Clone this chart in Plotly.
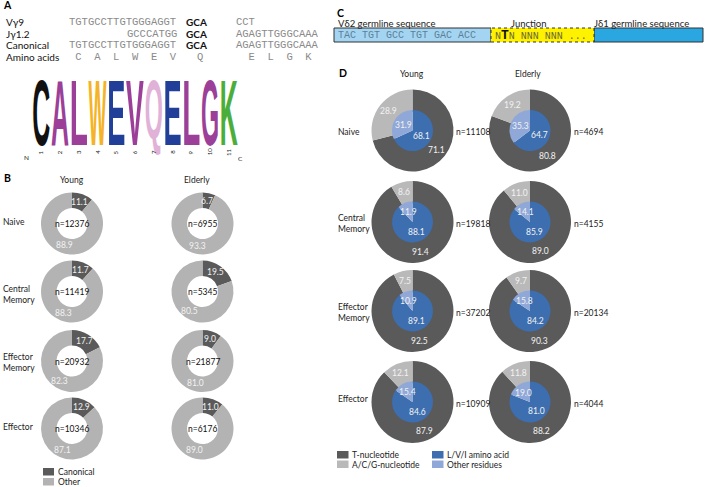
import math
import json
import plotly.graph_objects as go

W, H = 708, 487
FONT = "Lato"
MONO = "Liberation Mono"
LOGO_FONT = "Liberation Sans"


def X(px):
    return px / W


def Y(py):
    return 1 - py / H


# ------------------------------------------------------------------ data
# Panel A
seq_labels = ["Vγ9", "Jγ1.2", "Canonical", "Amino acids"]
seq_5p = ["TGTGCCTTGTGGGAGGT", "GCCCATGG", "TGTGCCTTGTGGGAGGT", " C  A  L  W  E  V"]
seq_mid = ["GCA", "GCA", "GCA", "Q"]
seq_3p = ["CCT", "AGAGTTGGGCAAA", "AGAGTTGGGCAAA", "  E  L  G  K"]
logo_letters = ["C", "A", "L", "W", "E", "V", "Q", "E", "L", "G", "K"]
logo_colors = ["#111111", "#9b3f98", "#9b3f98", "#f5b326", "#213f98", "#9b3f98",
               "#e0b2d8", "#213f98", "#9b3f98", "#9b3f98", "#4bae3a"]
logo_positions = ["1", "2", "3", "4", "5", "6", "7", "8", "9", "10", "11"]

# Panel C
c_titles = ["Vδ2 germline sequence", "Junction", "Jδ1 germline sequence"]
c_v_sequence = "TAC TGT GCC TGT GAC ACC"
c_junction = "N<b><span style='font-size:13px;color:#111'>T</span></b>N NNN NNN ..."

# Panel B
subsets = ["Naive", "Central<br>Memory", "Effector<br>Memory", "Effector"]
age_groups = ["Young", "Elderly"]
b_young_canonical = [11.1, 11.7, 17.7, 12.9]
b_young_other = [88.9, 88.3, 82.3, 87.1]
b_young_n = [12376, 11419, 20932, 10346]
b_elderly_canonical = [6.7, 19.5, 9.0, 11.0]
b_elderly_other = [93.3, 80.5, 81.0, 89.0]
b_elderly_n = [6955, 5345, 21877, 6176]
b_legend = ["Canonical", "Other"]

# Panel D
d_young_T = [71.1, 91.4, 92.5, 87.9]
d_young_ACG = [28.9, 8.6, 7.5, 12.1]
d_young_LVI = [68.1, 88.1, 89.1, 84.6]
d_young_other = [31.9, 11.9, 10.9, 15.4]
d_young_n = [11108, 19818, 37202, 10909]
d_elderly_T = [80.8, 89.0, 90.3, 88.2]
d_elderly_ACG = [19.2, 11.0, 9.7, 11.8]
d_elderly_LVI = [64.7, 85.9, 84.2, 81.0]
d_elderly_other = [35.3, 14.1, 15.8, 19.0]
d_elderly_n = [4694, 4155, 20134, 4044]
d_legend_outer = ["T-nucleotide", "A/C/G-nucleotide"]
d_legend_inner = ["L/V/I amino acid", "Other residues"]

# ------------------------------------------------------------------ styles / layout geometry
C_CANON, C_OTHER = "#5a5a5a", "#b3b3b3"
C_T, C_ACG, C_LVI, C_RES = "#5a5a5a", "#b9b9b9", "#3c6eb0", "#8fa8d8"
LABEL_COLOR = "#f2f2f2"

B_CX = [72, 202.5]
B_CY = [223.5, 291.5, 361, 428.5]
B_R, B_HOLE = 31, 0.5
D_CX = [412.5, 530]
D_CY = [130.5, 222, 311, 402]
D_R, D_RI = 41, 20.5

annotations = []
shapes = []


def ann(text, px, py, size=9, color="#222", xanchor="center", yanchor="middle",
        family=FONT, align="center", textangle=0):
    annotations.append(dict(text=text, x=X(px), y=Y(py), xref="paper", yref="paper",
                            showarrow=False, xanchor=xanchor, yanchor=yanchor,
                            align=align, textangle=textangle, borderpad=0,
                            font=dict(size=size, color=color, family=family)))
    return len(annotations) - 1


def domain(cx, cy, r):
    return dict(x=[X(cx - r), X(cx + r)], y=[Y(cy + r), Y(cy - r)])


def slice_labels(values, cx, cy, rad, fmt="{:.1f}", size=8.5):
    tot = sum(values)
    cum = 0
    for v in values:
        a = math.radians(360 * (cum + v / 2) / tot)
        ann(fmt.format(v), cx + rad * math.sin(a), cy - rad * math.cos(a),
            size=size, color=LABEL_COLOR)
        cum += v


traces = []

# ------------------------------------------------------------------ Panel A
ann("<b>A</b>", 7, 5.5, size=10.5, color="#000")
row_y = [22.5, 34, 45.5, 56.5]
for i, lab in enumerate(seq_labels):
    ann(lab, 5, row_y[i], size=10, color="#111", xanchor="left")
    if i == 1:
        ann(seq_5p[i], 178, row_y[i], size=10.5, color="#8a8a8a", family=MONO, xanchor="right")
    else:
        ann(seq_5p[i], 68, row_y[i], size=10.5, color="#8a8a8a", family=MONO, xanchor="left")
    if i < 3:
        ann("<b>" + seq_mid[i] + "</b>", 185, row_y[i], size=10, color="#111", xanchor="left")
    else:
        ann(seq_mid[i], 200, row_y[i], size=10.5, color="#8a8a8a", family=MONO)
    ann(seq_3p[i], 235, row_y[i], size=10.5, color="#8a8a8a", family=MONO, xanchor="left")

# sequence logo (letters stretched to their column by a post-render script)
LOGO_X0, LOGO_STEP, LOGO_TOP, LOGO_BOT = 32, 18.75, 80, 146
LOGO_FS = 22
logo_specs = []
for i, (letter, col) in enumerate(zip(logo_letters, logo_colors)):
    cx = LOGO_X0 + LOGO_STEP * (i + 0.5)
    idx = ann("<b>" + letter + "</b>", cx, (LOGO_TOP + LOGO_BOT) / 2, size=LOGO_FS,
              color=col, family=LOGO_FONT)
    bottom = LOGO_BOT - (6 if letter == "Q" else 0)
    logo_specs.append(dict(i=idx, fs=LOGO_FS,
                           x0=cx - LOGO_STEP / 2 + 0.3, x1=cx + LOGO_STEP / 2 - 0.3,
                           y0=LOGO_TOP, y1=bottom))
    ann(logo_positions[i], cx, 152, size=6, color="#222", textangle=-90)
ann("N", 26, 157.5, size=6.5, color="#222")
ann("C", 240.5, 158, size=6.5, color="#222")

# ------------------------------------------------------------------ Panel C
ann("<b>C</b>", 340, 13, size=10.5, color="#000")
ann(c_titles[0], 337, 23.5, size=9.5, color="#222", xanchor="left")
ann(c_titles[1], 529, 23.5, size=9.5, color="#222")
ann(c_titles[2], 593, 23.5, size=9.5, color="#222", xanchor="left")
shapes.append(dict(type="rect", xref="paper", yref="paper", x0=X(334), x1=X(491), y0=Y(42), y1=Y(28),
                   fillcolor="#a3d5f3", line=dict(color="#333", width=1)))
shapes.append(dict(type="rect", xref="paper", yref="paper", x0=X(594), x1=X(703), y0=Y(42), y1=Y(28),
                   fillcolor="#2aa7e0", line=dict(color="#333", width=1)))
shapes.append(dict(type="rect", xref="paper", yref="paper", x0=X(491), x1=X(594), y0=Y(42), y1=Y(28),
                   fillcolor="#fff200", line=dict(color="#333", width=1, dash="dot")))
ann(c_v_sequence, 337, 35.5, size=10, color="#5f7f96", family=MONO, xanchor="left")
ann(c_junction, 494, 35.5, size=10, color="#66663a", family=MONO, xanchor="left")

# ------------------------------------------------------------------ Panel B
ann("<b>B</b>", 7, 178, size=10.5, color="#000")
for j, g in enumerate(age_groups):
    ann(g, [72, 197][j], 180, size=8.5, color="#222")
for k, s in enumerate(subsets):
    ann(s, 2, [222, 294, 362, 427][k], size=8.5, color="#222", xanchor="left", align="left")

b_sets = [(b_young_canonical, b_young_other, b_young_n),
          (b_elderly_canonical, b_elderly_other, b_elderly_n)]
for j, (can, oth, ns) in enumerate(b_sets):
    for k in range(4):
        cx, cy = B_CX[j], B_CY[k]
        vals = [can[k], oth[k]]
        traces.append(go.Pie(values=vals, labels=b_legend, sort=False, direction="clockwise",
                             rotation=0, hole=B_HOLE, textinfo="none", showlegend=False,
                             marker=dict(colors=[C_CANON, C_OTHER], line=dict(width=0)),
                             domain=domain(cx, cy, B_R)))
        slice_labels(vals, cx, cy, B_R * (1 + B_HOLE) / 2)
        ann("n=%d" % ns[k], cx, cy + 0.5, size=8.5, color="#111")

# legend B
for i, (lab, col) in enumerate(zip(b_legend, [C_CANON, C_OTHER])):
    y0 = 468 + 10 * i
    shapes.append(dict(type="rect", xref="paper", yref="paper", x0=X(43), x1=X(54),
                       y0=Y(y0 + 7.5), y1=Y(y0), fillcolor=col, line=dict(width=0)))
    ann(lab, 57, y0 + 4, size=8.5, color="#222", xanchor="left")

# ------------------------------------------------------------------ Panel D
ann("<b>D</b>", 343, 73, size=10.5, color="#000")
for j, g in enumerate(age_groups):
    ann(g, [412, 528][j], 74, size=8.5, color="#222")
for k, s in enumerate(subsets):
    ann(s, 337, [132, 223.5, 312.5, 399][k], size=8.5, color="#222", xanchor="left", align="left")

d_sets = [(d_young_T, d_young_ACG, d_young_LVI, d_young_other, d_young_n),
          (d_elderly_T, d_elderly_ACG, d_elderly_LVI, d_elderly_other, d_elderly_n)]
for j, (tn, acg, lvi, oth, ns) in enumerate(d_sets):
    for k in range(4):
        cx, cy = D_CX[j], D_CY[k]
        outer = [tn[k], acg[k]]
        inner = [lvi[k], oth[k]]
        traces.append(go.Pie(values=outer, labels=d_legend_outer, sort=False, direction="clockwise",
                             rotation=0, hole=0.46, textinfo="none", showlegend=False,
                             marker=dict(colors=[C_T, C_ACG], line=dict(width=0)),
                             domain=domain(cx, cy, D_R)))
        traces.append(go.Pie(values=inner, labels=d_legend_inner, sort=False, direction="clockwise",
                             rotation=0, textinfo="none", showlegend=False,
                             marker=dict(colors=[C_LVI, C_RES], line=dict(width=0)),
                             domain=domain(cx, cy, D_RI)))
        slice_labels(outer, cx, cy, 31)
        slice_labels(inner, cx, cy, 11)
        ann("n=%d" % ns[k], cx + D_R + 1.5, cy + 1.5, size=8.5, color="#222", xanchor="left")

# legend D
for c, (labs, cols) in enumerate([(d_legend_outer, [C_T, C_ACG]), (d_legend_inner, [C_LVI, C_RES])]):
    xs = [337, 432][c]
    for i, (lab, col) in enumerate(zip(labs, cols)):
        y0 = 451 + 9.5 * i
        shapes.append(dict(type="rect", xref="paper", yref="paper", x0=X(xs), x1=X(xs + 11.5),
                           y0=Y(y0 + 7.5), y1=Y(y0), fillcolor=col, line=dict(width=0)))
        ann(lab, xs + 14, y0 + 4, size=8.5, color="#222", xanchor="left")

fig = go.Figure(traces)
fig.update_layout(width=W, height=H, margin=dict(l=0, r=0, t=0, b=0, pad=0),
                  paper_bgcolor="white", plot_bgcolor="white",
                  annotations=annotations, shapes=shapes, showlegend=False,
                  font=dict(family=FONT, size=9, color="#222"))

post = """
document.documentElement.style.margin = '0';
document.body.style.margin = '0';
document.body.style.padding = '0';
document.body.style.overflow = 'hidden';
var gd = document.getElementById('{plot_id}');
var specs = SPECS;
var ASC = 1854 / (1854 + 434);
var CAP = 0.716;
function stretchLogo() {
  specs.forEach(function (s) {
    var g = gd.querySelector('g.annotation[data-index="' + s.i + '"]');
    if (!g) return;
    var t = g.querySelector('text');
    if (!t) return;
    var bb = t.getBBox();
    var base = bb.y + bb.height * ASC;
    var top = base - CAP * s.fs;
    var ctm = t.getCTM();
    if (!ctm) return;
    var inv = ctm.inverse();
    var svg = t.ownerSVGElement;
    var p0 = svg.createSVGPoint(); p0.x = s.x0; p0.y = s.y0;
    var p1 = svg.createSVGPoint(); p1.x = s.x1; p1.y = s.y1;
    p0 = p0.matrixTransform(inv); p1 = p1.matrixTransform(inv);
    var sx = (p1.x - p0.x) / bb.width;
    var sy = (p1.y - p0.y) / (base - top);
    var ex = p0.x - sx * bb.x;
    var ey = p0.y - sy * top;
    var old = t.getAttribute('transform') || '';
    t.setAttribute('transform', old + ' matrix(' + [sx, 0, 0, sy, ex, ey].join(',') + ')');
  });
}
stretchLogo();
""".replace("SPECS", json.dumps(logo_specs))

fig.write_html("out.html", post_script=post, config={"displayModeBar": False})
